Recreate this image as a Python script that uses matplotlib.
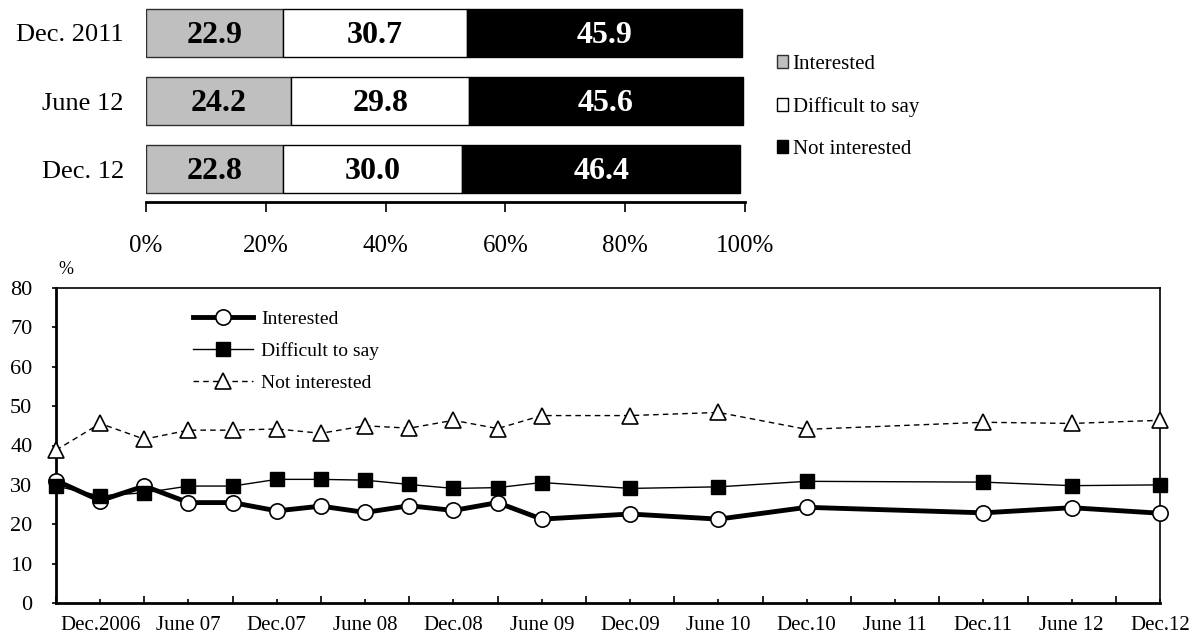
import matplotlib
matplotlib.use('Agg')
import matplotlib.pyplot as plt
from matplotlib.patches import Patch
from matplotlib.lines import Line2D

plt.rcParams['font.family'] = ['Liberation Serif', 'DejaVu Serif']

# top chart: shares by survey wave
waves = ['Dec. 2011', 'June 12', 'Dec. 12']
share_interested = [22.9, 24.2, 22.8]
share_difficult = [30.7, 29.8, 30.0]
share_not = [45.9, 45.6, 46.4]

# bottom chart: quarterly positions (0 = Sep 2006) and values
quarters = [0, 1, 2, 3, 4, 5, 6, 7, 8, 9, 10, 11, 13, 15, 17, 21, 23, 25]
interested = [31.1, 26.0, 29.7, 25.5, 25.5, 23.4, 24.6, 23.0, 24.7, 23.5, 25.5, 21.3,
              22.6, 21.3, 24.3, 22.9, 24.2, 22.8]
difficult = [29.7, 27.2, 28.0, 29.7, 29.7, 31.4, 31.4, 31.2, 30.1, 29.1, 29.3, 30.6,
             29.1, 29.5, 30.9, 30.7, 29.8, 30.0]
not_interested = [38.8, 45.6, 41.6, 43.9, 43.9, 44.2, 43.1, 45.0, 44.4, 46.4, 44.3, 47.6,
                  47.6, 48.4, 44.1, 45.9, 45.6, 46.4]

label_pos = [1, 3, 5, 7, 9, 11, 13, 15, 17, 19, 21, 23, 25]
tick_label = ['Dec.2006', 'June 07', 'Dec.07', 'June 08', 'Dec.08', 'June 09', 'Dec.09',
              'June 10', 'Dec.10', 'June 11', 'Dec.11', 'June 12', 'Dec.12']

gray = '#bfbfbf'

fig = plt.figure(figsize=(11.9, 6.39), dpi=100)

# ---- stacked bar chart ----
ax1 = fig.add_axes([146 / 1190, 1 - 202 / 639, 599 / 1190, 202 / 639])
ypos = list(range(len(waves)))
left2 = share_interested
left3 = [a + b for a, b in zip(share_interested, share_difficult)]
ax1.barh(ypos, share_interested, height=0.71, color=gray, edgecolor='#303030', linewidth=1)
ax1.barh(ypos, share_difficult, left=left2, height=0.71, color='white', edgecolor='black', linewidth=1)
ax1.barh(ypos, share_not, left=left3, height=0.71, color='black', edgecolor='black', linewidth=1)

for i in ypos:
    ax1.text(share_interested[i] / 2, i + 0.03, '%.1f' % share_interested[i], ha='center', va='center',
             fontsize=23, fontweight='bold', color='black')
    ax1.text(left2[i] + share_difficult[i] / 2, i + 0.03, '%.1f' % share_difficult[i], ha='center',
             va='center', fontsize=23, fontweight='bold', color='black')
    ax1.text(left3[i] + share_not[i] / 2, i + 0.03, '%.1f' % share_not[i], ha='center', va='center',
             fontsize=23, fontweight='bold', color='white')

ax1.set_xlim(0, 100)
ax1.set_ylim(2.485, -0.485)
ax1.set_yticks(ypos)
ax1.set_yticklabels(waves, fontsize=19)
ax1.set_xticks([0, 20, 40, 60, 80, 100])
ax1.set_xticklabels(['0%', '20%', '40%', '60%', '80%', '100%'], fontsize=18)
ax1.tick_params(axis='y', length=0, pad=16)
ax1.tick_params(axis='x', direction='out', length=7, width=1.2, pad=17)
for s in ['top', 'right', 'left']:
    ax1.spines[s].set_visible(False)
ax1.spines['bottom'].set_linewidth(2)

handles = [Patch(facecolor=gray, edgecolor='#303030'),
           Patch(facecolor='white', edgecolor='black'),
           Patch(facecolor='black', edgecolor='black')]
fig.legend(handles, ['Interested', 'Difficult to say', 'Not interested'],
           loc='upper left', bbox_to_anchor=(777 / 1190, 1 - 55 / 639), frameon=False,
           fontsize=15, handlelength=0.55, handleheight=0.55, handletextpad=0.2,
           labelspacing=1.1, borderpad=0, borderaxespad=0)

# ---- line chart ----
ax2 = fig.add_axes([56 / 1190, 1 - 603 / 639, 1104 / 1190, 315 / 639])
ax2.plot(quarters, interested, color='black', linewidth=3.5, marker='o', markersize=11,
         markerfacecolor='white', markeredgecolor='black', markeredgewidth=1.2,
         clip_on=False, zorder=3)
ax2.plot(quarters, difficult, color='black', linewidth=1, marker='s', markersize=10,
         markerfacecolor='black', clip_on=False, zorder=4)
ax2.plot(quarters, not_interested, color='black', linewidth=1, linestyle=(0, (4, 3)),
         marker='^', markersize=12, markerfacecolor='white', markeredgecolor='black',
         markeredgewidth=1.2, clip_on=False, zorder=3)

ax2.set_xlim(0, 25)
ax2.set_ylim(0, 80)
ax2.set_yticks(range(0, 81, 10))
ax2.tick_params(axis='y', direction='out', length=3, width=1.2, labelsize=16, pad=14)
ax2.set_xticks(label_pos)
ax2.set_xticklabels(tick_label, fontsize=15)
ax2.set_xticks(range(0, 26, 2), minor=True)
ax2.tick_params(axis='x', which='major', direction='in', length=3, width=1.2, pad=9)
ax2.tick_params(axis='x', which='minor', direction='in', length=5, width=1.2)
ax2.spines['left'].set_linewidth(2)
ax2.spines['bottom'].set_linewidth(2)
ax2.spines['top'].set_linewidth(1.2)
ax2.spines['right'].set_linewidth(1.2)

fig.text(58 / 1190, 1 - 270 / 639, '%', fontsize=13, ha='left', va='center')

line_handles = [
    Line2D([], [], color='black', linewidth=3.5, marker='o', markersize=11,
           markerfacecolor='white', markeredgewidth=1.2),
    Line2D([], [], color='black', linewidth=1, marker='s', markersize=10),
    Line2D([], [], color='black', linewidth=1, linestyle=(0, (4, 3)), marker='^',
           markersize=12, markerfacecolor='white', markeredgewidth=1.2),
]
ax2.legend(line_handles, ['Interested', 'Difficult to say', 'Not interested'],
           loc='upper left', bbox_to_anchor=(193 / 1190, 1 - 310 / 639),
           bbox_transform=fig.transFigure, frameon=False, fontsize=14,
           handlelength=3.1, handletextpad=0.4, labelspacing=0.75,
           borderpad=0, borderaxespad=0)

plt.savefig('out.png', dpi=100)
